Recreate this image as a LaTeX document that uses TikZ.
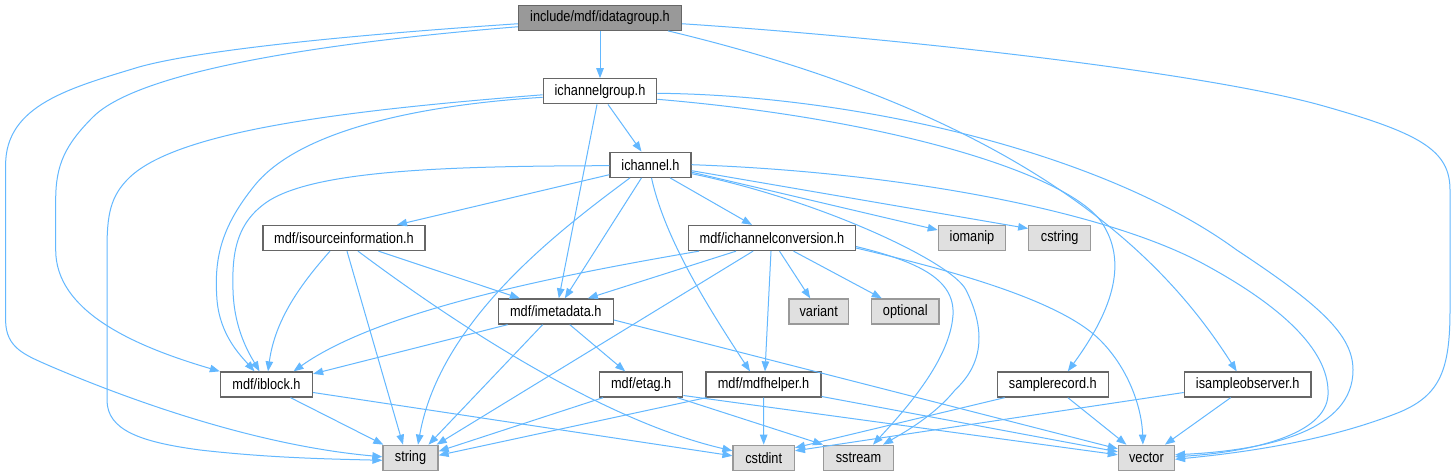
\documentclass[tikz,border=0pt]{standalone}
\usepackage{fontspec}
\setmainfont{Liberation Sans}[FakeStretch=0.85]
\usetikzlibrary{arrows.meta,calc}
\definecolor{edgec}{HTML}{63B8FF}
\definecolor{boxb}{HTML}{666666}
\definecolor{sysb}{HTML}{999999}
\definecolor{sysf}{HTML}{E0E0E0}
\begin{document}
\begin{tikzpicture}[x=1pt,y=-1pt,
  box/.style={draw=boxb, fill=white, line width=1.3pt, minimum height=25pt, inner sep=0pt, font=\fontsize{15}{18}\selectfont},
  sysbox/.style={box, draw=sysb, fill=sysf},
  mainbox/.style={box, fill=sysb},
  dep/.style={draw=edgec, line width=1pt, -{Triangle[length=10pt,width=7.5pt]}}]
\fill[white] (0,0) rectangle (1456,476);
\useasboundingbox (0,0) rectangle (1456,476);

% nodes
\node[mainbox, minimum width=163pt]   (idg)  at (600,17.75)   {include/mdf/idatagroup.h};
\node[box, minimum width=113.5pt]     (icg)  at (600,91.3)    {ichannelgroup.h};
\node[box, minimum width=81pt]        (ich)  at (650.5,164.7) {ichannel.h};
\node[box, minimum width=162pt]       (isi)  at (344,238)     {mdf/isourceinformation.h};
\node[box, minimum width=166.6pt]     (icc)  at (772,238)     {mdf/ichannelconversion.h};
\node[sysbox, minimum width=67.3pt]   (iom)  at (972,238)     {iomanip};
\node[sysbox, minimum width=61.8pt]   (cst)  at (1059.7,238)  {cstring};
\node[box, minimum width=115pt]       (imd)  at (555.8,311.5) {mdf/imetadata.h};
\node[sysbox, minimum width=59.3pt]   (var)  at (818.7,311.5) {variant};
\node[sysbox, minimum width=67.3pt]   (opt)  at (905.3,311.5) {optional};
\node[box, minimum width=92pt]        (ibl)  at (266.5,384.5) {mdf/iblock.h};
\node[box, minimum width=83pt]        (etg)  at (641.2,384.5) {mdf/etag.h};
\node[box, minimum width=115pt]       (mdh)  at (763.5,384.5) {mdf/mdfhelper.h};
\node[box, minimum width=111pt]       (srec) at (1052.8,384.5){samplerecord.h};
\node[box, minimum width=126.7pt]     (iso)  at (1247.7,384.5){isampleobserver.h};
\node[sysbox, minimum width=55pt]     (str)  at (410.5,457.8) {string};
\node[sysbox, minimum width=61.3pt]   (cdi)  at (763.7,457.8) {cstdint};
\node[sysbox, minimum width=69.6pt]   (sst)  at (858.5,457.8) {sstream};
\node[sysbox, minimum width=56pt]     (vec)  at (1146.4,457.8){vector};

% idatagroup.h
\draw[dep] (idg.south) -- (icg.north);
\draw[dep] ($(idg.west)+(0,6)$) .. controls (350,35) and (200,50) .. (139,67)
  .. controls (70,88) and (5.6,105) .. (5.6,165) -- (5.6,320)
  .. controls (5.6,348) and (25,355) .. (50,366)
  .. controls (120,396) and (250,445) .. ($(str.west)+(0,-1)$);
\draw[dep] ($(idg.west)+(0,9)$) .. controls (330,42) and (140,70) .. (93,117)
  .. controls (65,145) and (55.7,165) .. (55.7,200) -- (55.7,250)
  .. controls (55.7,310) and (130,345) .. (ibl.north west);
\draw[dep] ($(idg.east)+(0,6)$) .. controls (900,38) and (1200,72) .. (1320,105)
  .. controls (1420,133) and (1450,150) .. (1450,190) -- (1450,310)
  .. controls (1450,370) and (1440,395) .. (1400,412)
  .. controls (1330,440) and (1250,452) .. ($(vec.east)+(0,1.5)$);
\draw[dep] ($(idg.south)+(68,0)$) .. controls (1050,122) and (1175,275) .. ($(iso.north)+(-11,0)$);

% ichannelgroup.h
\draw[dep] ($(icg.south)+(8,0)$) -- ($(ich.north)+(-9,0)$);
\draw[dep] ($(icg.south)+(-3,0)$) -- ($(imd.north)+(3,0)$);
\draw[dep] ($(icg.west)+(0,6)$) .. controls (420,105) and (300,130) .. (255,185)
  .. controls (220,228) and (214,260) .. (217,300)
  .. controls (220,335) and (240,355) .. ($(ibl.north)+(-12,0)$);
\draw[dep] ($(icg.west)+(0,3.5)$) .. controls (350,110) and (180,130) .. (130,177)
  .. controls (110,196) and (107,215) .. (107,250) -- (107,400)
  .. controls (107,430) and (140,442) .. (200,450)
  .. controls (270,458) and (330,459) .. ($(str.west)+(0,2.5)$);
\draw[dep] ($(icg.east)+(0,8)$) .. controls (880,118) and (1060,170) .. (1100,220)
  .. controls (1125,255) and (1120,300) .. ($(srec.north)+(15,0)$);
\draw[dep] ($(icg.east)+(0,2)$) .. controls (850,95) and (1100,150) .. (1236.7,250)
  .. controls (1320,305) and (1353,335) .. (1353,370)
  .. controls (1353,430) and (1270,450) .. ($(vec.east)+(0,-3)$);

% ichannel.h
\draw[dep] ($(ich.south)+(19.5,0)$) -- ($(icc.north)+(-20,0)$);
\draw[dep] ($(ich.west)+(0,10)$) -- ($(isi.north)+(53,0)$);
\draw[dep] ($(ich.west)+(0,1)$) .. controls (450,166) and (320,170) .. (270,200)
  .. controls (235,222) and (232,255) .. (233,290)
  .. controls (234,330) and (250,355) .. ($(ibl.north)+(-7,0)$);
\draw[dep] ($(ich.south)+(-20.5,0)$) .. controls (560,230) and (440,320) .. ($(str.north)+(7.5,0)$);
\draw[dep] ($(ich.south)+(-9,0)$) -- ($(imd.north)+(9,0)$);
\draw[dep] ($(ich.south)+(1,0)$) .. controls (665,240) and (710,310) .. ($(mdh.north)+(-13.5,0)$);
\draw[dep] (ich.east) .. controls (900,172) and (1100,210) .. (1200,262)
  .. controls (1290,310) and (1330,355) .. (1328,395)
  .. controls (1326,435) and (1250,452) .. ($(vec.east)+(0,-1)$);
\draw[dep] ($(ich.east)+(0,7.5)$) -- ($(iom.west)+(0,-8)$);
\draw[dep] ($(ich.east)+(0,6)$) -- ($(cst.west)+(0,-9.5)$);
\draw[dep] ($(ich.east)+(0,9)$) .. controls (820,200) and (952,262) .. (966,290)
  .. controls (987,332) and (982,365) .. (955,390)
  .. controls (935,415) and (905,432) .. ($(sst.north)+(24.5,0)$);

% mdf/ichannelconversion.h
\draw[dep] ($(icc.south west)+(11,0)$) .. controls (560,275) and (380,310) .. ($(ibl.north)+(27,0)$);
\draw[dep] ($(icc.south west)+(48,0)$) -- ($(imd.north)+(32,0)$);
\draw[dep] ($(icc.south west)+(65,0)$) -- ($(str.north east)+(-2,0)$);
\draw[dep] ($(icc.south)+(-1,0)$) -- ($(mdh.north)+(1.5,0)$);
\draw[dep] ($(icc.south)+(7.5,0)$) -- ($(var.north)+(-8.5,0)$);
\draw[dep] ($(icc.south)+(21.5,0)$) -- ($(opt.north)+(-23.5,0)$);
\draw[dep] ($(icc.east)+(0,8.5)$) .. controls (920,262) and (955,280) .. (953,315)
  .. controls (950,360) and (905,410) .. ($(sst.north)+(14.5,0)$);
\draw[dep] ($(icc.east)+(0,10)$) .. controls (950,270) and (1060,300) .. (1100,340)
  .. controls (1130,370) and (1142,410) .. ($(vec.north)+(-3.5,0)$);

% mdf/isourceinformation.h
\draw[dep] ($(isi.south)+(34.5,0)$) -- ($(imd.north)+(-36,0)$);
\draw[dep] ($(isi.south)+(-14,0)$) .. controls (300,285) and (275,320) .. ($(ibl.north)+(1.5,0)$);
\draw[dep] ($(isi.south)+(3,0)$) -- ($(str.north)+(-7.5,0)$);
\draw[dep] ($(isi.south)+(14,0)$) .. controls (450,320) and (600,420) .. ($(cdi.west)+(0,-7)$);

% mdf/imetadata.h
\draw[dep] ($(imd.south west)+(10,0)$) -- ($(ibl.north east)+(0,2.5)$);
\draw[dep] ($(imd.south west)+(45,0)$) -- ($(str.north)+(18,0)$);
\draw[dep] ($(imd.south)+(14,0)$) -- ($(etg.north)+(-16,0)$);
\draw[dep] ($(imd.east)+(0,8.5)$) -- ($(vec.west)+(0,-9)$);

% mdf/iblock.h
\draw[dep] ($(ibl.south)+(24,0)$) -- ($(str.north west)+(1,0)$);
\draw[dep] ($(ibl.east)+(0,8)$) -- ($(cdi.west)+(0,-2)$);

% mdf/etag.h
\draw[dep] ($(etg.south west)+(4,0)$) -- ($(str.east)+(0,-6.5)$);
\draw[dep] ($(etg.south east)+(-6,0)$) -- (sst.north west);
\draw[dep] ($(etg.east)+(0,11)$) -- ($(vec.west)+(0,-3)$);

% mdf/mdfhelper.h
\draw[dep] ($(mdh.south west)+(1,0)$) -- ($(str.east)+(0,-2.5)$);
\draw[dep] (mdh.south) -- (cdi.north);
\draw[dep] ($(mdh.east)+(0,12)$) -- ($(vec.west)+(0,-6)$);

% samplerecord.h
\draw[dep] ($(srec.south west)+(8,0)$) -- ($(cdi.east)+(0,-10)$);
\draw[dep] ($(srec.south)+(15,0)$) -- ($(vec.north)+(-20,0)$);

% isampleobserver.h
\draw[dep] ($(iso.west)+(0,8)$) -- ($(cdi.east)+(0,-7)$);
\draw[dep] ($(iso.south)+(-17,0)$) -- ($(vec.north)+(18.5,0)$);
\end{tikzpicture}
\end{document}
